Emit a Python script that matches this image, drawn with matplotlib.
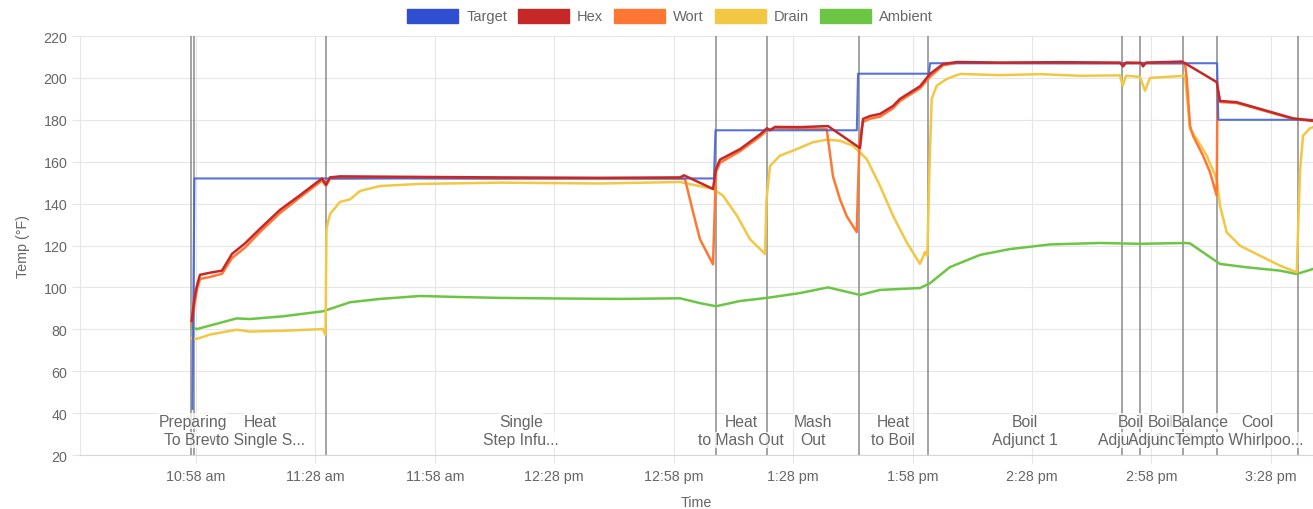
import matplotlib
matplotlib.use("Agg")
import matplotlib.pyplot as plt
import matplotlib.dates as mdates
from matplotlib.patches import Patch
from matplotlib.ticker import FuncFormatter
import pandas as pd

plt.rcParams['font.family'] = ['Liberation Sans', 'DejaVu Sans']

# ---- data (times are minutes after 10:00 am) ----
target_t = [57.1, 57.6, 188.1, 188.5, 224.0, 224.3, 242.1, 242.4, 314.5, 314.8, 338.6]
target_v = [42, 152, 152, 175, 175, 202, 202, 207, 207, 180, 180]

hex_t = [56.92, 57.62, 58.25, 59.0, 61.52, 64.53, 67.04, 70.31, 74.08, 79.1, 84.12, 89.65,
         90.66, 91.66, 94.17, 109.24, 134.36, 159.48, 179.58, 180.59, 187.87, 188.62, 189.63,
         194.65, 199.68, 201.44, 202.19, 203.45, 209.72, 216.76, 224.8, 225.55, 227.31, 229.82,
         233.09, 234.85, 239.87, 242.38, 245.65, 249.16, 259.96, 275.04, 290.11, 290.86, 291.62,
         295.38, 295.89, 296.64, 305.68, 306.43, 314.4, 315.23, 319.42, 326.96, 333.57, 338.59]
hex_v = [84, 95, 101, 106, 107, 108, 116, 121, 128, 137, 144, 152,
         149, 152.5, 153, 152.8, 152.5, 152.3, 152.5, 153.5, 147, 156.5, 161,
         166, 173, 176, 175, 176.6, 176.5, 177, 166.5, 180.4, 181.8, 182.8,
         186.6, 190, 196, 201.9, 206.6, 207.6, 207.3, 207.5, 207.3, 205.5, 207.3,
         207.2, 205.5, 207.3, 207.8, 207, 198, 189, 188.4, 184.3, 180.7, 179.6]

wort_t = [56.92, 57.62, 58.25, 59.0, 61.52, 64.53, 67.04, 70.31, 74.08, 79.1, 84.12, 89.65,
          90.66, 91.66, 109.24, 134.36, 159.48, 179.58, 180.84, 182.85, 184.6, 187.87, 188.62,
          189.63, 194.65, 199.68, 201.44, 203.45, 216.43, 218.01, 219.77, 221.46, 223.97,
          224.67, 225.55, 227.31, 229.82, 233.09, 234.85, 239.87, 242.38, 245.65, 249.16,
          285.08, 306.43, 306.86, 307.69, 308.45, 310.96, 312.72, 314.4, 314.6, 315.23,
          319.42, 326.96, 333.57, 338.59]
wort_v = [82, 92, 99, 104, 105, 106.5, 114, 119, 126.5, 135.5, 143, 151,
          148.5, 152, 152.3, 152, 152, 152, 151.7, 136, 123, 111, 155,
          159.5, 165, 172, 175, 176, 175.6, 153, 142, 134, 126.4,
          170, 179, 180.5, 181.5, 185.5, 189, 195, 200.5, 206, 207.2,
          207, 207, 200, 177.2, 172.4, 162.9, 155, 143.8, 195, 188.5,
          188, 184, 180.4, 179.4]

drain_t = [56.92, 58.18, 61.52, 68.22, 71.56, 79.85, 89.9, 90.53, 90.78, 91.66, 94.17, 96.68,
           99.2, 104.22, 114.27, 134.36, 159.48, 179.58, 187.87, 190.38, 193.9, 197.16, 200.93,
           201.31, 202.19, 204.7, 208.9, 213.0, 216.43, 219.77, 223.04, 226.48, 229.82, 233.09,
           236.53, 239.87, 241.13, 241.7, 242.25, 242.8, 244.06, 246.58, 249.92, 259.96, 270.01,
           280.06, 290.11, 290.79, 291.62, 295.13, 296.39, 297.64, 306.43, 307.69, 309.38,
           311.89, 314.4, 315.23, 316.91, 320.25, 325.28, 330.3, 334.5, 335.32, 336.08,
           337.84, 338.59]
drain_v = [75.8, 75.4, 77.5, 79.8, 78.9, 79.3, 80.1, 77.3, 128, 135, 140.8, 142,
           146, 148.4, 149.4, 150, 149.6, 150.3, 147, 143.8, 134.2, 123, 116,
           142, 158, 162.9, 166, 169.3, 170.5, 170, 167.6, 161.3, 148.5, 134.2,
           121.5, 111.2, 116.9, 115, 157, 189.9, 196.3, 199.5, 201.9, 201.3, 201.8,
           201, 201.2, 196.3, 201, 200.5, 193.9, 200, 201, 175.6, 170.8,
           162.9, 151.7, 139, 126.3, 119.9, 115.1, 110.4, 107.2, 155, 172.4,
           176, 176.5]

amb_t = [56.92, 58.18, 68.22, 71.56, 79.85, 89.9, 96.68, 104.22, 114.27, 124.32, 134.36,
         149.44, 164.51, 179.58, 184.6, 188.62, 194.65, 201.44, 209.72, 216.76, 224.8, 229.82,
         239.87, 242.38, 247.4, 254.94, 262.48, 272.53, 285.08, 295.13, 306.43, 307.69,
         315.23, 321.94, 330.3, 334.5, 338.59]
amb_v = [81, 80.1, 85.2, 84.9, 86.2, 88.6, 92.9, 94.5, 95.9, 95.4, 95,
         94.7, 94.5, 94.8, 92.5, 91, 93.5, 95, 97.3, 100, 96.4, 98.8,
         99.7, 102, 109.7, 115.5, 118.3, 120.5, 121.2, 120.8, 121.2, 121,
         111.2, 109.6, 108, 106.4, 108.8]

phase_t = [56.74, 57.62, 90.58, 188.62, 201.31, 224.47, 241.88, 290.49, 295.13, 305.81, 314.6, 334.82]
phase_line1 = ["Preparing", "Heat", "Single", "Heat", "Mash", "Heat", "Boil",
               "Boil", "Boil", "Balance", "Cool"]
phase_line2 = ["To Brew", "to Single S...", "Step Infu...", "to Mash Out", "Out", "to Boil",
               "Adjunct 1", "Adjunct 2", "Adjunct 3", "Temp...", "to Whirlpoo..."]

xlim_t = [28.86, 338.59]
yticks = [20, 40, 60, 80, 100, 120, 140, 160, 180, 200, 220]
xtick_t = [58, 88, 118, 148, 178, 208, 238, 268, 298, 328]

base = pd.Timestamp("2024-01-01 10:00")


def T(mins):
    return [base + pd.Timedelta(minutes=m) for m in mins]


c_target = "#2f4fd0"
c_hex = "#c62828"
c_wort = "#ff7733"
c_drain = "#f2c744"
c_amb = "#6cc644"

fig = plt.figure(figsize=(13.13, 5.10), dpi=100)
ax = fig.add_axes([80 / 1313, 1 - 456 / 510, 1 - 80 / 1313, (456 - 37) / 510])

ax.plot(T(amb_t), amb_v, color=c_amb, lw=1.8, zorder=3)
ax.plot(T(drain_t), drain_v, color=c_drain, lw=1.8, zorder=4)
ax.plot(T(wort_t), wort_v, color=c_wort, lw=1.8, zorder=5)
ax.plot(T(target_t), target_v, color="#4464d8", lw=1.5, alpha=0.9, zorder=6)
ax.plot(T(hex_t), hex_v, color=c_hex, lw=1.8, zorder=7)

for pt in T(phase_t):
    ax.axvline(pt, color="#8a8a8a", lw=1.1, zorder=2)

# phase labels centered in segments, one text per line
for i, (l1, l2) in enumerate(zip(phase_line1, phase_line2)):
    mid = T([(phase_t[i] + phase_t[i + 1]) / 2])[0]
    for yv, s in ((36.2, l1), (27.2, l2)):
        ax.text(mid, yv, s, ha="center", va="center", fontsize=11.3,
                color="#666666", zorder=8 + i,
                bbox=dict(facecolor="white", edgecolor="none", alpha=0.75, pad=0.2))

ax.set_ylim(20, 220)
ax.set_yticks(yticks)
ax.set_xlim(T(xlim_t))
ax.set_xticks(T(xtick_t))


def fmt(x, pos):
    d = mdates.num2date(x)
    h = d.hour % 12
    if h == 0:
        h = 12
    return f"{h}:{d.minute:02d} {'am' if d.hour < 12 else 'pm'}"


ax.xaxis.set_major_formatter(FuncFormatter(fmt))
ax.grid(True, color="#e6e6e6", lw=0.8, zorder=0)
ax.set_axisbelow(True)
for s in ["top", "right"]:
    ax.spines[s].set_visible(False)
ax.spines["left"].set_color("#e6e6e6")
ax.spines["bottom"].set_color("#d6d6d6")
ax.tick_params(axis="both", length=6, color="#e6e6e6", labelcolor="#666666", labelsize=10.3)
ax.tick_params(axis="x", pad=4)
ax.tick_params(axis="y", pad=3)

ax.set_ylabel("Temp (°F)", color="#666666", fontsize=10.3, labelpad=10)
ax.set_xlabel("Time", color="#666666", fontsize=10.3, labelpad=9)

handles = [Patch(facecolor=c, edgecolor=c, label=l) for c, l in
           [(c_target, "Target"), (c_hex, "Hex"), (c_wort, "Wort"), (c_drain, "Drain"), (c_amb, "Ambient")]]
leg = fig.legend(handles=handles, loc="center", bbox_to_anchor=(670 / 1313, 1 - 17 / 510), ncol=5,
                 frameon=False, fontsize=10.5, handlelength=3.5, handleheight=1.1,
                 handletextpad=0.55, columnspacing=0.75)
for t in leg.get_texts():
    t.set_color("#666666")

fig.savefig("out.png", dpi=100)
